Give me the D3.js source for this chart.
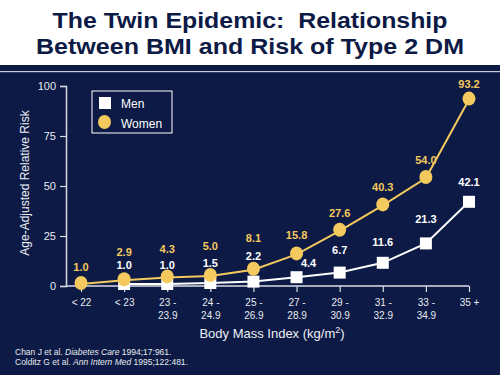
<!DOCTYPE html>
<html>
<head>
<meta charset="utf-8">
<script src="https://cdn.jsdelivr.net/npm/d3@7"></script>
<style>
  body { margin: 0; background: #0c1a45; }
  svg { display: block; font-family: "Liberation Sans", Arial, sans-serif; }
</style>
</head>
<body>
<div id="chart"></div>
<script>
// categories on the x axis (two lines per label)
let bmiCategories = ["< 22", "< 23", "23 -|23.9", "24 -|24.9", "25 -|26.9", "27 -|28.9", "29 -|30.9", "31 -|32.9", "33 -|34.9", "35 +"]

// women: every category except "< 23"; men: every category except "< 22"
let womenCategories = ["< 22", "< 23", "23 -|23.9", "24 -|24.9", "25 -|26.9", "27 -|28.9", "29 -|30.9", "31 -|32.9", "33 -|34.9", "35 +"]
let womenRisk = [1.0, 2.9, 4.3, 5.0, 8.1, 15.8, 27.6, 40.3, 54.0, 93.2]
let menCategories = ["< 23", "23 -|23.9", "24 -|24.9", "25 -|26.9", "27 -|28.9", "29 -|30.9", "31 -|32.9", "33 -|34.9", "35 +"]
let menRisk = [1.0, 1.0, 1.5, 2.2, 4.4, 6.7, 11.6, 21.3, 42.1]

let yTicks = [0, 25, 50, 75, 100]

// label lift above the marker, so the two series' labels don't collide
let womenLabelLift = [17, 28, 28, 30, 32, 19, 18, 18, 18, 16]
let menLabelLift = [19, 19, 20, 26, 14, 23, 21, 24, 20]
let menLabelShift = [0, 0, 0, 0, 12, 0, 0, 0, 0]

let navy = "#0c1a45"
let gold = "#f4c95d"

let width = 500, height = 375
let margin = {top: 86, right: 29, bottom: 89, left: 66}

let svg = d3.select("#chart")
    .append("svg")
    .attr("width", width)
    .attr("height", height)

// background and title band
svg.append("rect").attr("width", width).attr("height", height).attr("fill", navy)
svg.append("rect").attr("width", width).attr("height", 65).attr("fill", "#ffffff")
svg.append("rect").attr("y", 71).attr("width", width).attr("height", 1.2).attr("fill", "#c8ccd8")

// title, stretched a little wider like the slide
let titleLines = ["The Twin Epidemic:  Relationship", "Between BMI and Risk of Type 2 DM"]
let titleWidths = [395, 428]
svg.selectAll(".title")
    .data(titleLines)
    .enter()
    .append("text")
    .attr("x", 250)
    .attr("y", function(d, i) {return 28 + i * 25.5})
    .attr("text-anchor", "middle")
    .attr("textLength", function(d, i) {return titleWidths[i]})
    .attr("lengthAdjust", "spacingAndGlyphs")
    .style("font-size", "22px")
    .style("font-weight", "bold")
    .style("white-space", "pre")
    .attr("fill", navy)
    .text(function(d) {return d})

// scales
let x = d3.scalePoint()
    .domain(bmiCategories)
    .range([81, 469])

let y = d3.scaleLinear()
    .domain([0, 100])
    .range([286, 86])

// y axis
let yAxis = svg.append("g")
    .attr("transform", "translate(" + margin.left + ",0)")
    .call(d3.axisLeft(y).tickValues(yTicks).tickSize(6).tickPadding(4))
yAxis.select(".domain").attr("stroke", "#d8dbe4").attr("stroke-width", 1.5)
yAxis.selectAll(".tick line").attr("stroke", "#d8dbe4").attr("stroke-width", 1.2)
yAxis.selectAll(".tick text").attr("fill", "#e8eaf0").style("font-size", "11px").style("font-family", "Liberation Sans, Arial, sans-serif")

// x axis
let xAxis = svg.append("g")
    .attr("transform", "translate(0," + y(0) + ")")
    .call(d3.axisBottom(x).tickSize(6).tickSizeOuter(0).tickFormat(""))
xAxis.select(".domain").attr("d", "M" + margin.left + ",0H" + x("35 +")).attr("stroke", "#d8dbe4").attr("stroke-width", 1.5)
xAxis.selectAll(".tick line").attr("stroke", "#d8dbe4").attr("stroke-width", 1.2)

// two-line x tick labels
xAxis.selectAll(".tick").each(function(d) {
    let lines = d.split("|")
    let t = d3.select(this).append("text")
        .attr("fill", "#e8eaf0")
        .attr("text-anchor", "middle")
        .style("font-size", "10px")
    lines.forEach(function(l, i) {
        t.append("tspan").attr("x", 0).attr("y", 20 + i * 13).text(l)
    })
})

// axis titles
let xTitle = svg.append("text")
    .attr("x", 272)
    .attr("y", 338)
    .attr("text-anchor", "middle")
    .attr("fill", "#eef0f5")
    .style("font-size", "13px")
xTitle.append("tspan").text("Body Mass Index (kg/m")
xTitle.append("tspan").attr("dy", -5).style("font-size", "9px").text("2")
xTitle.append("tspan").attr("dy", 5).text(")")

svg.append("text")
    .attr("transform", "rotate(-90)")
    .attr("x", -183)
    .attr("y", 29)
    .attr("text-anchor", "middle")
    .attr("fill", "#eef0f5")
    .style("font-size", "12px")
    .text("Age-Adjusted Relative Risk")

// lines
let line = d3.line()
    .x(function(d) {return x(d.cat)})
    .y(function(d) {return y(d.value)})

let menData = menCategories.map(function(c, i) {return {cat: c, value: menRisk[i]}})
let womenData = womenCategories.map(function(c, i) {return {cat: c, value: womenRisk[i]}})

svg.append("path")
    .datum(menData)
    .attr("d", line)
    .attr("fill", "none")
    .attr("stroke", "#ffffff")
    .attr("stroke-width", 2)

svg.selectAll(".men-marker")
    .data(menData)
    .enter()
    .append("rect")
    .attr("x", function(d) {return x(d.cat) - 6})
    .attr("y", function(d) {return y(d.value) - 6})
    .attr("width", 12)
    .attr("height", 12)
    .attr("fill", "#ffffff")

svg.append("path")
    .datum(womenData)
    .attr("d", line)
    .attr("fill", "none")
    .attr("stroke", gold)
    .attr("stroke-width", 2)

svg.selectAll(".women-marker")
    .data(womenData)
    .enter()
    .append("ellipse")
    .attr("cx", function(d) {return x(d.cat)})
    .attr("cy", function(d) {return y(d.value) - 1})
    .attr("rx", 6.5)
    .attr("ry", 7)
    .attr("fill", gold)

// value labels
svg.selectAll(".women-label")
    .data(womenData)
    .enter()
    .append("text")
    .attr("x", function(d) {return x(d.cat)})
    .attr("y", function(d, i) {return y(d.value) - womenLabelLift[i] + 4})
    .attr("text-anchor", "middle")
    .attr("fill", gold)
    .style("font-size", "11px")
    .style("font-weight", "bold")
    .text(function(d) {return d.value.toFixed(1)})

svg.selectAll(".men-label")
    .data(menData)
    .enter()
    .append("text")
    .attr("x", function(d, i) {return x(d.cat) + menLabelShift[i]})
    .attr("y", function(d, i) {return y(d.value) - menLabelLift[i] + 4})
    .attr("text-anchor", "middle")
    .attr("fill", "#ffffff")
    .style("font-size", "11px")
    .style("font-weight", "bold")
    .text(function(d) {return d.value.toFixed(1)})

// legend
let legend = svg.append("g").attr("transform", "translate(92,91)")
legend.append("rect")
    .attr("width", 80)
    .attr("height", 42)
    .attr("fill", "none")
    .attr("stroke", "#ffffff")
    .attr("stroke-width", 1)
legend.append("rect").attr("x", 7).attr("y", 6).attr("width", 12).attr("height", 12).attr("fill", "#ffffff")
legend.append("ellipse").attr("cx", 12.5).attr("cy", 31).attr("rx", 6.5).attr("ry", 7).attr("fill", gold)
legend.append("text").attr("x", 29).attr("y", 17).attr("fill", "#ffffff").style("font-size", "12px").text("Men")
legend.append("text").attr("x", 29).attr("y", 37).attr("fill", "#ffffff").style("font-size", "12px").text("Women")

// references
let refs = [
    ["Chan J et al. ", "Diabetes Care", " 1994;17:961."],
    ["Colditz G et al. ", "Ann Intern Med", " 1995;122:481."]
]
refs.forEach(function(r, i) {
    let t = svg.append("text")
        .attr("x", 15)
        .attr("y", 355 + i * 9.5)
        .attr("fill", "#e8eaf0")
        .style("font-size", "8.5px")
    t.append("tspan").text(r[0])
    t.append("tspan").style("font-style", "italic").text(r[1])
    t.append("tspan").text(r[2])
})
</script>
</body>
</html>
